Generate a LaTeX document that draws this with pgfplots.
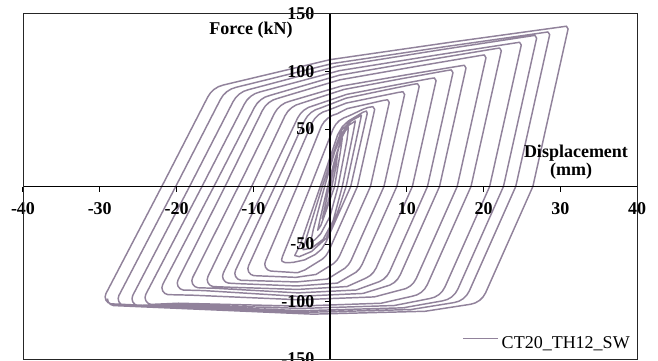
\documentclass[border=0pt]{standalone}
\usepackage{fontspec}
\setmainfont{Liberation Serif}
\usepackage{pgfplots}
\pgfplotsset{compat=1.18}
\definecolor{curvecol}{RGB}{145,130,155}
\begin{document}
\begin{tikzpicture}
\begin{axis}[
  name=ax,
  width=460.5pt, height=258.75pt, scale only axis,
  xmin=-40, xmax=40, ymin=-150, ymax=150,
  axis lines=center,
  axis line style={-, line width=1.1pt, black},
  xtick={-40,-30,-20,-10,0,10,20,30,40},
  xticklabels={-40,-30,-20,-10,0,10,20,30,40},
  ytick={-150,-100,-50,0,50,100,150},
  yticklabels={-150,-100,-50,0,50,100,150},
  tick align=outside, major tick length=3.75pt,
  tick style={black, line width=0.75pt},
  ticklabel style={font=\fontsize{13.5}{16}\selectfont\bfseries},
  xticklabel style={yshift=-4.5pt},
  yticklabel style={xshift=-4.5pt},
  axis on top,
  legend style={draw=none, fill=none, at={(rel axis cs:1,0)}, anchor=south east,
    xshift=-5.25pt, yshift=6.3pt, inner sep=0pt, nodes={inner sep=0pt},
    column sep=2.25pt, font=\fontsize{13.5}{16}\selectfont},
  legend image code/.code={\draw[#1] (0pt,3.5pt) -- (26.25pt,3.5pt);},
]
\addplot[color=curvecol, line width=1.1pt, line join=round] coordinates {
(0,0) (0.55,18) (1.0,30)
(0.8,18) (0.25,0) (-0.35,-16) (-1.0,-28)
(-0.6,-16) (-0.1,0) (0.65,20) (1.15,34) (1.6,42)
(1.35,30) (0.6,0) (-0.55,-22) (-1.2,-34) (-1.6,-38)
(-1.35,-30) (-0.3,0) (0.65,24) (1.5,42) (2.0,48.5) (2.4,51)
(2.2,40) (1.05,0) (0.0,-26) (-1.2,-41) (-2.0,-46.5) (-2.5,-48)
(-2.2,-38) (-0.7,0) (0.6,30) (1.6,47) (2.5,53.5) (3.3,57)
(3.0,46) (1.6,0) (0.4,-30) (-0.9,-46) (-2.4,-53.5) (-3.5,-55)
(-3.05,-44) (-1.0,0) (0.5,30) (1.5,49) (2.8,57.3) (4.1,62)
(3.75,51) (2.1,0) (0.9,-24) (-0.5,-45) (-2.4,-56.5) (-4.0,-61) (-4.6,-60)
(-3.85,-50) (-1.27,0) (1.0,45) (1.6,52) (2.4,57) (3.4,61) (4.3,64.6) (4.75,65.6) (4.85,63.5)
(2.7,0) (-0.5,-48) (-1.1,-54.5) (-1.9,-59) (-3.3,-63.8) (-4.8,-66) (-5.8,-66.3) (-6.25,-65) (-6.3,-63.5) (-6.2,-61)
(-2.54,0) (0.4,50) (0.75,54) (1.2,57.2) (1.8,59.6) (2.6,61.8) (4.3,67.2) (5.0,68.8) (5.6,69.4) (5.82,67)
(3.57,0) (-0.18,-56.34) (-0.52,-60.04) (-0.98,-63.08) (-3.26,-72.5) (-4.24,-75) (-7.72,-73.53) (-8.12,-72.45) (-8.4,-70.28) (-8.5,-67.5) (-8.4,-64.73)
(-4.28,0) (-1.12,52.54) (-0.76,56.26) (-0.28,59.41) (0.28,61.75) (0.92,63.22) (2.26,67.75) (5.15,72.1) (6.9,74.8) (7.5,75.4) (7.72,73)
(5.27,0) (1.25,-60.34) (0.91,-64.04) (0.45,-67.08) (-1.83,-76.5) (-4.45,-79) (-9.92,-77.53) (-10.32,-76.45) (-10.6,-74.28) (-10.7,-71.5) (-10.6,-68.73)
(-5.93,0) (-2.32,55.54) (-1.96,59.26) (-1.48,62.41) (-0.92,64.75) (-0.28,66.22) (2.12,72.55) (6.13,78.06) (8.9,81.8) (9.5,82.4) (9.72,80)
(7.03,0) (2.74,-64.34) (2.4,-68.04) (1.94,-71.08) (-0.34,-80.5) (-4.39,-83) (-11.62,-81.53) (-12.02,-80.45) (-12.3,-78.28) (-12.4,-75.5) (-12.3,-72.73)
(-7.19,0) (-3.29,57.54) (-2.93,61.26) (-2.45,64.41) (-1.89,66.75) (-1.25,68.22) (2.09,76.8) (7.11,83.76) (10.8,88.8) (11.4,89.4) (11.62,87)
(8.7,0) (4.18,-67.84) (3.84,-71.54) (3.38,-74.58) (0.96,-84) (-4.32,-86.5) (-11.89,-84.5) (-13.22,-84.03) (-13.62,-82.95) (-13.9,-80.78) (-14,-78) (-13.9,-75.23)
(-8.43,0) (-4.22,59.54) (-3.86,63.26) (-3.38,66.41) (-2.82,68.75) (-2.18,70.22) (2.2,80.15) (8.31,87.98) (13.0,93.8) (13.6,94.4) (13.82,92)
(10.73,0) (6.01,-70.84) (5.67,-74.54) (5.21,-77.58) (4.65,-79.75) (2.22,-87) (-4.21,-89.5) (-13.43,-87.5) (-15.22,-87.03) (-15.62,-85.95) (-15.9,-83.78) (-16,-81) (-15.9,-78.23)
(-10.21,0) (-5.86,61.54) (-5.5,65.26) (-5.02,68.41) (-4.46,70.75) (-3.82,72.22) (1.82,84.4) (9.28,93.68) (15.2,100.8) (15.8,101.4) (16.02,99)
(12.7,0) (7.78,-73.84) (7.44,-77.54) (6.98,-80.58) (6.42,-82.75) (3.42,-90) (-4.14,-92.5) (-14.98,-88.5) (-17.22,-88.03) (-17.62,-86.95) (-17.9,-84.78) (-18,-82) (-17.9,-79.23)
(-11.93,0) (-7.24,63.54) (-6.88,67.26) (-6.4,70.41) (-5.84,72.75) (-5.2,74.22) (1.46,87.3) (10.0,97.16) (16.9,104.8) (17.5,105.4) (17.72,103)
(14.27,0) (9.15,-76.84) (8.81,-80.54) (8.35,-83.58) (7.79,-85.75) (4.3,-93) (-4.24,-95.5) (-16.48,-90.5) (-19.12,-90.03) (-19.52,-88.95) (-19.8,-86.78) (-19.9,-84) (-19.8,-81.23)
(-13.68,0) (-8.81,66.04) (-8.45,69.76) (-7.97,72.91) (-7.41,75.25) (-6.77,76.72) (1.26,92.73) (11.26,104.47) (19.5,113.8) (20.1,114.4) (20.32,112)
(16.57,0) (11.25,-79.84) (10.91,-83.54) (10.45,-86.58) (9.89,-88.75) (5.78,-96) (-3.99,-98.5) (-17.99,-94.5) (-21.12,-94.03) (-21.52,-92.95) (-21.8,-90.78) (-21.9,-88) (-21.8,-85.23)
(-15.13,0) (-9.86,68.54) (-9.5,72.26) (-9.02,75.41) (-8.46,77.75) (-7.82,79.22) (1.22,96.8) (12.28,109.56) (21.5,119.8) (22.1,120.4) (22.32,118)
(18.37,0) (12.68,-85.34) (12.34,-89.04) (11.88,-92.08) (11.32,-94.25) (10.7,-95.43) (6.67,-101.5) (-4.19,-104) (-19.76,-101.5) (-23.32,-102.53) (-23.72,-101.45) (-24.0,-99.28) (-24.1,-96.5) (-24.0,-93.73)
(-16.68,0) (-11.17,71.54) (-10.81,75.26) (-10.33,78.41) (-9.77,80.75) (-9.13,82.22) (1.2,100.7) (13.63,114.04) (24.1,124.8) (24.7,125.4) (24.92,123)
(20.8,0) (14.98,-87.34) (14.64,-91.04) (14.18,-94.08) (13.62,-96.25) (13.0,-97.43) (8.37,-103.5) (-3.69,-106) (-20.98,-102.5) (-25.02,-103.53) (-25.42,-102.45) (-25.7,-100.28) (-25.8,-97.5) (-25.7,-94.73)
(-18.3,0) (-12.65,73.54) (-12.29,77.26) (-11.81,80.41) (-11.25,82.75) (-10.61,84.22) (0.87,104.5) (14.52,119) (26.1,130.8) (26.7,131.4) (26.92,129)
(22.6,0) (16.65,-89.34) (16.31,-93.04) (15.85,-96.08) (15.29,-98.25) (14.67,-99.43) (9.52,-105.5) (-3.58,-108) (-22.36,-103) (-26.82,-103.53) (-27.22,-102.45) (-27.5,-100.28) (-27.6,-97.5) (-27.5,-94.73)
(-20.1,0) (-14.29,75.54) (-13.93,79.26) (-13.45,82.41) (-12.89,84.75) (-12.25,86.22) (0.33,106.95) (15.15,121.74) (27.8,133.8) (28.4,134.4) (28.62,132)
(24.2,0) (18.15,-90.84) (17.81,-94.54) (17.35,-97.58) (16.79,-99.75) (16.17,-100.93) (10.54,-107) (-3.52,-109.5) (-23.68,-103.5) (-28.52,-102.03) (-28.92,-100.95) (-29.2,-98.78) (-29.3,-96) (-29.2,-93.23)
(-21.92,0) (-15.95,77.54) (-15.59,81.26) (-15.11,84.41) (-14.55,86.75) (-13.91,88.22) (0.01,110.3) (16.25,125.96) (30.2,138.8) (30.8,139.4) (31.02,137)
(26.43,0) (20.28,-92.34) (19.94,-96.04) (19.48,-99.08) (18.92,-101.25) (18.3,-102.43) (12.39,-108.5) (-2.22,-111) (-23.16,-105) (-28.22,-103.53) (-28.62,-102.45) (-28.9,-100.28) (-29.0,-97.5)
};
\addlegendentry{CT20\_TH12\_SW}
\node[anchor=base, font=\fontsize{13.5}{16}\selectfont\bfseries] at (axis cs:-10.3,132.2) {Force (kN)};
\node[anchor=base, font=\fontsize{13.5}{16}\selectfont\bfseries] at (axis cs:32.05,24.96) {Displacement};
\node[anchor=base, font=\fontsize{13.5}{16}\selectfont\bfseries] at (axis cs:31.4,9.57) {(mm)};
\end{axis}
\draw[line width=0.75pt, black!85] (ax.south west) rectangle (ax.north east);
\pgfresetboundingbox
\path ([shift={(-17.25pt,-0.75pt)}]ax.south west) rectangle ([shift={(15.75pt,10.5pt)}]ax.north east);
\end{tikzpicture}
\end{document}
